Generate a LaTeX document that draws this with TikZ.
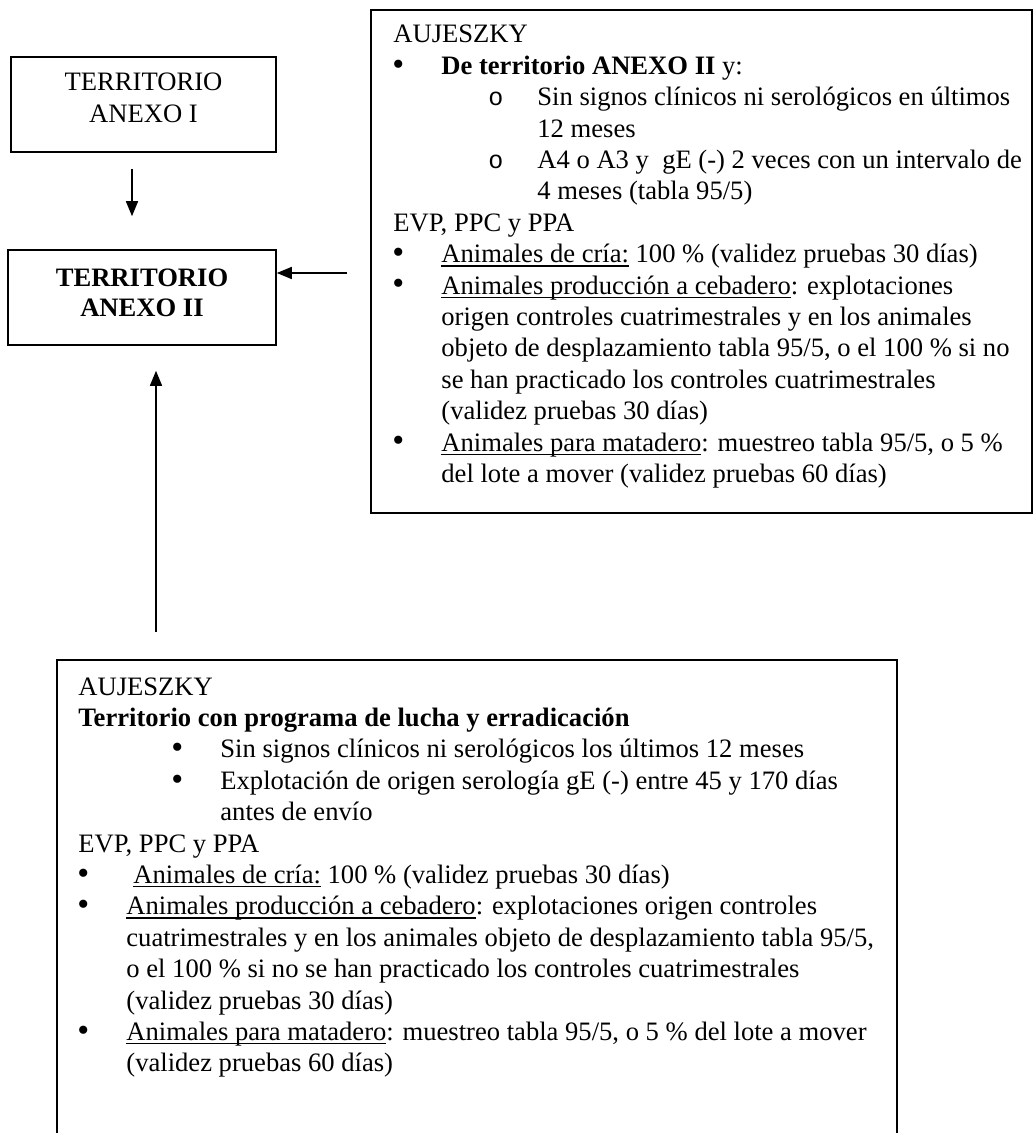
\documentclass[tikz,border=0pt]{standalone}
\usepackage{fontspec}
\setmainfont{Liberation Serif}
\newfontfamily\monofnt{Liberation Mono}
\usetikzlibrary{arrows.meta,calc}
\newcommand{\uln}[1]{\setbox0\hbox{#1}\rlap{\rule[-1.9pt]{\wd0}{0.6pt}}\box0\relax}
\newcommand{\bul}{\raisebox{-0.4pt}{\fontsize{17}{17}\selectfont •}}
\tikzset{
  box/.style={draw, line width=0.8pt, rectangle, inner sep=0pt},
  txt/.style={anchor=base west, inner sep=0pt, font=\fontsize{13.3}{15.7}\selectfont},
  ctr/.style={anchor=base, inner sep=0pt, font=\fontsize{13.3}{15.7}\selectfont},
  arr/.style={line width=0.8pt, -{Triangle[length=7.5pt,width=6pt]}}
}
\newcommand{\subo}{{\monofnt\fontsize{12.5}{12.5}\selectfont o}}
\begin{document}
\begin{tikzpicture}[x=0.5pt,y=-0.5pt]
\useasboundingbox (0,0) rectangle (1034,1133);
\clip (0,0) rectangle (1034,1133);
% boxes
\node[box, minimum width=132.5pt, minimum height=47.5pt] (anexoI) at (143.5,104.5) {};
\node[box, minimum width=134pt, minimum height=47.5pt] (anexoII) at (142,297.5) {};
\node[box, minimum width=330.5pt, minimum height=251.5pt] (right) at (701.5,261.5) {};
\node[box, minimum width=420pt, minimum height=245pt] (bottom) at (477,905) {};
% left box texts
\node[ctr] (a1) at (143.5,91) {TERRITORIO};
\node[ctr] (a2) at (143.5,123) {ANEXO I};
\node[ctr] (b1) at (142,287) {\textbf{TERRITORIO}};
\node[ctr] (b2) at (142,317) {\textbf{ANEXO II}};
% arrows
\draw[arr, shorten <=8pt, shorten >=16.5pt] (anexoI.south -| 132,0) -- (anexoII.north -| 132,0);
\draw[arr, shorten <=11.5pt] (right.west |- 0,273) -- (anexoII.east |- 0,273);
\draw[arr, shorten <=13.5pt, shorten >=12.5pt] (bottom.north -| 156,0) -- (anexoII.south -| 156,0);
% right box text
\node[txt] (r0) at (393,43) {AUJESZKY};
\node[txt] (r1b) at (392,74.4) {\bul};
\node[txt] (r1) at (441,74.4) {\textbf{De territorio ANEXO II} y:};
\node[txt] (r2b) at (488,105.8) {\subo};
\node[txt] (r2) at (537,105.8) {Sin signos clínicos ni serológicos en últimos};
\node[txt] (r3) at (537,137.2) {12 meses};
\node[txt] (r4b) at (488,168.6) {\subo};
\node[txt] (r4) at (537,168.6) {A4 o A3 y \ gE (-) 2 veces con un intervalo de};
\node[txt] (r5) at (537,200) {4 meses (tabla 95/5)};
\node[txt] (r6) at (393,231.4) {EVP, PPC y PPA};
\node[txt] (r7b) at (392,262.8) {\bul};
\node[txt] (r7) at (441,262.8) {\uln{Animales de cría:} 100 \% (validez pruebas 30 días)};
\node[txt] (r8b) at (392,294.2) {\bul};
\node[txt] (r8) at (441,294.2) {\uln{Animales producción a cebadero}: explotaciones};
\node[txt] (r9) at (441,325.6) {origen controles cuatrimestrales y en los animales};
\node[txt] (r10) at (441,357) {objeto de desplazamiento tabla 95/5, o el 100 \% si no};
\node[txt] (r11) at (441,388.4) {se han practicado los controles cuatrimestrales};
\node[txt] (r12) at (441,419.8) {(validez pruebas 30 días)};
\node[txt] (r13b) at (392,451.2) {\bul};
\node[txt] (r13) at (441,451.2) {\uln{Animales para matadero}: muestreo tabla 95/5, o 5 \%};
\node[txt] (r14) at (441,482.6) {del lote a mover (validez pruebas 60 días)};
% bottom box text
\node[txt] (s0) at (78,695) {AUJESZKY};
\node[txt] (s1) at (78,726.4) {\textbf{Territorio con programa de lucha y erradicación}};
\node[txt] (s2b) at (171,757.8) {\bul};
\node[txt] (s2) at (220,757.8) {Sin signos clínicos ni serológicos los últimos 12 meses};
\node[txt] (s3b) at (171,789.2) {\bul};
\node[txt] (s3) at (220,789.2) {Explotación de origen serología gE (-) entre 45 y 170 días};
\node[txt] (s4) at (220,820.6) {antes de envío};
\node[txt] (s5) at (78,852) {EVP, PPC y PPA};
\node[txt] (s6b) at (77,883.4) {\bul};
\node[txt] (s6) at (133,883.4) {\uln{Animales de cría:} 100 \% (validez pruebas 30 días)};
\node[txt] (s7b) at (77,914.8) {\bul};
\node[txt] (s7) at (126,914.8) {\uln{Animales producción a cebadero}: explotaciones origen controles};
\node[txt] (s8) at (126,946.2) {cuatrimestrales y en los animales objeto de desplazamiento tabla 95/5,};
\node[txt] (s9) at (126,977.6) {o el 100 \% si no se han practicado los controles cuatrimestrales};
\node[txt] (s10) at (126,1009) {(validez pruebas 30 días)};
\node[txt] (s11b) at (77,1040.4) {\bul};
\node[txt] (s11) at (126,1040.4) {\uln{Animales para matadero}: muestreo tabla 95/5, o 5 \% del lote a mover};
\node[txt] (s12) at (126,1071.8) {(validez pruebas 60 días)};
\end{tikzpicture}
\end{document}
